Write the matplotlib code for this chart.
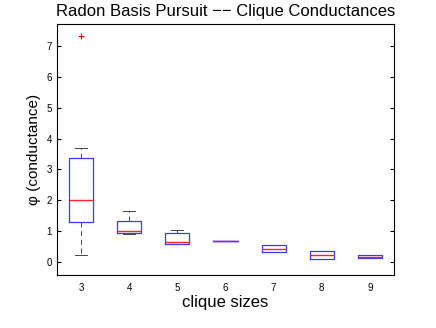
import matplotlib
matplotlib.use("Agg")
from matplotlib import pyplot as plt

plt.rcParams['font.family'] = ['Liberation Sans', 'DejaVu Sans']

# clique sizes and box statistics
sizes = [3, 4, 5, 6, 7, 8, 9]
q1 = [1.30, 0.92, 0.58, 0.68, 0.31, 0.09, 0.12]
med = [1.99, 0.99, 0.65, 0.68, 0.43, 0.22, 0.17]
q3 = [3.37, 1.33, 0.94, 0.68, 0.55, 0.36, 0.23]
wlo = [0.23, 0.89, 0.565, 0.68, 0.31, 0.09, 0.12]
whi = [3.70, 1.65, 1.04, 0.68, 0.55, 0.36, 0.23]
outliers = [[7.34], [], [], [], [], [], []]

stats = []
for i in range(len(sizes)):
    stats.append(dict(med=med[i], q1=q1[i], q3=q3[i], whislo=wlo[i],
                      whishi=whi[i], fliers=outliers[i], label=str(sizes[i])))

fig = plt.figure(figsize=(4.36, 3.28), dpi=100)
ax = fig.add_axes([57/436, 1 - 275/328, 337/436, 251/328])
parts = ax.bxp(stats, widths=0.5, capwidths=0.25,
               boxprops=dict(color='#3a3aff', linewidth=0.9),
               medianprops=dict(color='#ff2020', linewidth=1.0),
               whiskerprops=dict(color='#444444', linestyle=(0, (5, 4)), linewidth=0.7),
               capprops=dict(color='#444444', linewidth=0.7),
               flierprops=dict(marker='+', markeredgecolor='red', markersize=5,
                               markeredgewidth=0.8))
# boxes on top of caps/whiskers, medians on top of boxes
for b in parts['boxes']:
    b.set_zorder(4)
for m in parts['medians']:
    m.set_zorder(5)
# size 6 has a flat box: the original shows the red/blue overlap as purple
parts['medians'][3].set_color('#8030c0')
ax.set_xlim(0.5, 7.5)
ax.set_ylim(-0.43, 7.72)
ax.set_yticks(range(8))
ax.tick_params(direction='in', labelsize=7, top=False, right=True, length=3)
ax.tick_params(axis='x', length=0, pad=6)
ax.set_title('Radon Basis Pursuit \u2212\u2212 Clique Conductances', fontsize=12)
ax.set_xlabel('clique sizes', fontsize=12, labelpad=1)
ax.set_ylabel('\u03c6 (conductance)', fontsize=11)
fig.savefig('out.png', dpi=100)
